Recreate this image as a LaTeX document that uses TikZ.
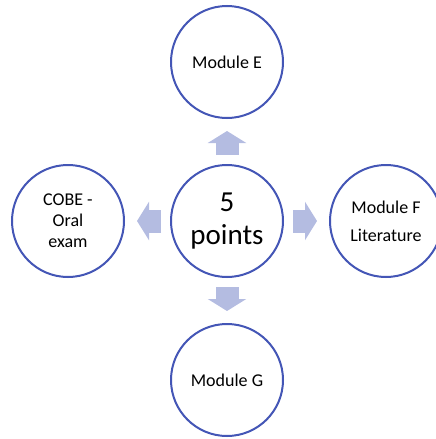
\documentclass[tikz,border=0pt]{standalone}
\usepackage{fontspec}
\setmainfont{Carlito}
\usepackage{tikz}
\usetikzlibrary{positioning,arrows.meta}
\definecolor{ringblue}{RGB}{68,86,182}
\definecolor{arrowblue}{RGB}{180,188,225}

\tikzset{
  module/.style={circle, draw=ringblue, line width=2pt, fill=white,
    minimum size=112pt, inner sep=0pt, align=center, font=\fontsize{18}{21}\selectfont},
  blockarrow/.style={color=arrowblue, line width=23pt,
    -{Triangle[length=12pt,width=38pt,color=arrowblue,fill=arrowblue]}, shorten <=9pt, shorten >=12pt}
}

\begin{document}
\begin{tikzpicture}[x=1pt,y=-1pt,node distance=159pt,on grid]
   \useasboundingbox (0,0) rectangle (436,439);
   \node[module, font=\fontsize{29}{33}\selectfont] (P) at (227,221) {5\\points};
   \node[module] (E) [above=of P] {Module E};
   \node[module] (G) [below=of P] {Module G};
   \node[module] (C) [left=of P] {COBE -\\Oral\\exam};
   \node[module, font=\fontsize{18}{28}\selectfont] (F) [right=of P] {Module F\\Literature};
   % block arrows out of the centre
   \draw[blockarrow] (P) -- (E);
   \draw[blockarrow] (P) -- (G);
   \draw[blockarrow] (P) -- (C);
   \draw[blockarrow] (P) -- (F);
\end{tikzpicture}
\end{document}
